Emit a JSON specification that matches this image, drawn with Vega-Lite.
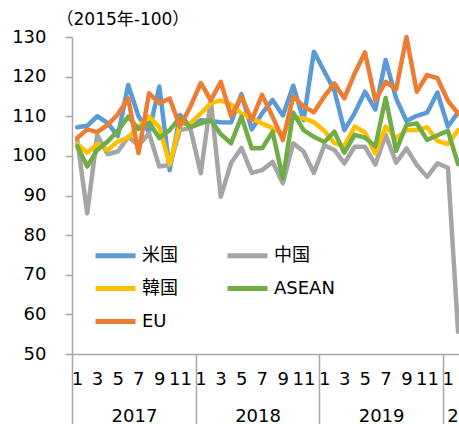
{
  "$schema": "https://vega.github.io/schema/vega-lite/v6.json",
  "width": 391,
  "height": 317,
  "autosize": {"type": "none"},
  "padding": {"left": 72, "top": 37, "right": 0, "bottom": 70},
  "background": "white",
  "config": {"view": {"stroke": null}},
  "data": {
    "values": [
      {"month": "2017-01", "米国": 107.2, "中国": 104.0, "韓国": 103.0, "ASEAN": 102.4, "EU": 104.5},
      {"month": "2017-02", "米国": 107.6, "中国": 85.5, "韓国": 100.8, "ASEAN": 97.3, "EU": 106.7},
      {"month": "2017-03", "米国": 110.0, "中国": 105.3, "韓国": 103.0, "ASEAN": 101.5, "EU": 106.0},
      {"month": "2017-04", "米国": 108.3, "中国": 100.4, "韓国": 101.5, "ASEAN": 103.6, "EU": 107.8},
      {"month": "2017-05", "米国": 105.0, "中国": 101.1, "韓国": 103.6, "ASEAN": 106.3, "EU": 110.5},
      {"month": "2017-06", "米国": 117.9, "中国": 104.8, "韓国": 104.6, "ASEAN": 109.9, "EU": 114.5},
      {"month": "2017-07", "米国": 110.0, "中国": 102.7, "韓国": 107.4, "ASEAN": 106.8, "EU": 100.7},
      {"month": "2017-08", "米国": 106.0, "中国": 105.7, "韓国": 109.9, "ASEAN": 108.4, "EU": 115.8},
      {"month": "2017-09", "米国": 117.5, "中国": 97.3, "韓国": 107.2, "ASEAN": 104.5, "EU": 113.3},
      {"month": "2017-10", "米国": 96.4, "中国": 97.7, "韓国": 97.9, "ASEAN": 106.5, "EU": 114.5},
      {"month": "2017-11", "米国": 110.3, "中国": 106.5, "韓国": 108.0, "ASEAN": 109.7, "EU": 107.4},
      {"month": "2017-12", "米国": 107.4, "中国": 107.0, "韓国": 108.2, "ASEAN": 107.2, "EU": 112.4},
      {"month": "2018-01", "米国": 109.0, "中国": 95.6, "韓国": 110.7, "ASEAN": 108.2, "EU": 118.4},
      {"month": "2018-02", "米国": 108.8, "中国": 114.0, "韓国": 113.3, "ASEAN": 109.0, "EU": 114.0},
      {"month": "2018-03", "米国": 108.5, "中国": 89.7, "韓国": 114.0, "ASEAN": 105.5, "EU": 118.7},
      {"month": "2018-04", "米国": 108.4, "中国": 98.2, "韓国": 113.0, "ASEAN": 103.2, "EU": 110.0},
      {"month": "2018-05", "米国": 115.6, "中国": 102.0, "韓国": 110.7, "ASEAN": 109.9, "EU": 115.0},
      {"month": "2018-06", "米国": 106.7, "中国": 95.7, "韓国": 109.5, "ASEAN": 101.9, "EU": 109.0},
      {"month": "2018-07", "米国": 110.7, "中国": 96.4, "韓国": 108.2, "ASEAN": 101.9, "EU": 115.4},
      {"month": "2018-08", "米国": 114.1, "中国": 98.5, "韓国": 107.0, "ASEAN": 106.1, "EU": 109.9},
      {"month": "2018-09", "米国": 110.2, "中国": 93.1, "韓国": 105.5, "ASEAN": 94.3, "EU": 104.0},
      {"month": "2018-10", "米国": 117.7, "中国": 103.2, "韓国": 109.7, "ASEAN": 110.9, "EU": 115.0},
      {"month": "2018-11", "米国": 109.0, "中国": 101.1, "韓国": 109.5, "ASEAN": 106.5, "EU": 112.5},
      {"month": "2018-12", "米国": 126.3, "中国": 95.7, "韓国": 108.5, "ASEAN": 104.8, "EU": 111.0},
      {"month": "2019-01", "米国": 121.3, "中国": 102.7, "韓国": 106.3, "ASEAN": 103.5, "EU": 115.0},
      {"month": "2019-02", "米国": 116.5, "中国": 101.5, "韓国": 103.2, "ASEAN": 106.1, "EU": 118.3},
      {"month": "2019-03", "米国": 106.5, "中国": 98.1, "韓国": 102.5, "ASEAN": 100.8, "EU": 114.5},
      {"month": "2019-04", "米国": 110.8, "中国": 102.3, "韓国": 107.4, "ASEAN": 105.3, "EU": 120.8},
      {"month": "2019-05", "米国": 116.2, "中国": 102.3, "韓国": 105.9, "ASEAN": 104.6, "EU": 126.1},
      {"month": "2019-06", "米国": 111.7, "中国": 97.8, "韓国": 100.6, "ASEAN": 102.4, "EU": 114.0},
      {"month": "2019-07", "米国": 124.2, "中国": 105.3, "韓国": 107.4, "ASEAN": 114.6, "EU": 118.7},
      {"month": "2019-08", "米国": 114.5, "中国": 98.3, "韓国": 104.4, "ASEAN": 101.3, "EU": 116.8},
      {"month": "2019-09", "米国": 108.8, "中国": 101.9, "韓国": 106.5, "ASEAN": 107.8, "EU": 130.0},
      {"month": "2019-10", "米国": 110.1, "中国": 97.7, "韓国": 106.5, "ASEAN": 108.2, "EU": 116.2},
      {"month": "2019-11", "米国": 110.9, "中国": 94.7, "韓国": 107.2, "ASEAN": 104.0, "EU": 120.4},
      {"month": "2019-12", "米国": 116.0, "中国": 98.1, "韓国": 103.8, "ASEAN": 105.2, "EU": 119.6},
      {"month": "2020-01", "米国": 107.4, "中国": 97.0, "韓国": 103.0, "ASEAN": 106.3, "EU": 113.9},
      {"month": "2020-02", "米国": 111.0, "中国": 55.6, "韓国": 106.5, "ASEAN": 97.9, "EU": 110.7}
    ]
  },
  "transform": [{"fold": ["米国", "中国", "韓国", "ASEAN", "EU"], "as": ["series", "value"]}],
  "encoding": {
    "y": {
      "field": "value", "type": "quantitative",
      "scale": {"domain": [50, 130], "nice": false, "zero": false},
      "axis": {
        "values": [50, 60, 70, 80, 90, 100, 110, 120, 130],
        "title": "（2015年-100）", "titleAngle": 0, "titleAlign": "left", "titleBaseline": "middle",
        "titleX": -16, "titleY": -18, "titleFont": "DejaVu Sans, Noto Sans CJK JP", "titleFontSize": 17,
        "titleFontWeight": "normal", "titleColor": "#000",
        "grid": false, "domainColor": "#A6A6A6", "domainWidth": 1.5,
        "tickColor": "#A6A6A6", "tickSize": 7, "tickWidth": 1.5,
        "labelFont": "DejaVu Sans", "labelFontSize": 18, "labelColor": "#000", "labelPadding": 19
      }
    },
    "color": {
      "field": "series", "type": "nominal",
      "scale": {"domain": ["米国", "中国", "韓国", "ASEAN", "EU"], "range": ["#5B9BD5", "#A5A5A5", "#FFC000", "#70AD47", "#ED7D31"]},
      "legend": {
        "orient": "none", "legendX": 21, "legendY": 196, "columns": 2, "direction": "horizontal", "title": null,
        "symbolType": "stroke", "symbolSize": 1600, "symbolStrokeWidth": 5,
        "labelFont": "DejaVu Sans, Noto Sans CJK JP", "labelFontSize": 18, "labelColor": "#000",
        "columnPadding": 39, "rowPadding": -11, "labelOffset": 4
      }
    }
  },
  "layer": [
    {
      "transform": [{"filter": "datum.series !== 'EU'"}],
      "mark": {"type": "line", "strokeWidth": 4.5, "strokeJoin": "round", "strokeCap": "round", "clip": false},
      "encoding": {
        "x": {
          "field": "month", "type": "temporal", "timeUnit": "utcyearmonth", "bandPosition": 0.5,
          "scale": {"domain": [{"year": 2017, "month": 1, "date": 1, "utc": true}, {"year": 2020, "month": 3, "date": 1, "utc": true}]},
          "axis": {
            "orient": "bottom", "title": null, "grid": false, "ticks": false,
            "tickCount": {"interval": "month", "step": 1},
            "labelExpr": "datum.value >= utc(2020, 2, 1) ? '' : (utcmonth(datum.value) % 2 == 0 ? '' + (utcmonth(datum.value) + 1) : '')",
            "labelOffset": 5, "labelAlign": "center", "labelBaseline": "top", "labelPadding": 16,
            "labelOverlap": false, "labelFlush": false, "labelBound": false,
            "labelFont": "DejaVu Sans", "labelFontSize": 18, "labelColor": "#000",
            "domainColor": "#A6A6A6", "domainWidth": 1.5
          }
        }
      }
    },
    {
      "transform": [{"filter": "datum.series === 'EU'"}],
      "mark": {"type": "line", "strokeWidth": 4.5, "strokeJoin": "round", "strokeCap": "round", "clip": false},
      "encoding": {
        "x": {
          "field": "month", "type": "temporal", "timeUnit": "utcyearmonth", "bandPosition": 0.5,
          "scale": {"domain": [{"year": 2017, "month": 1, "date": 1, "utc": true}, {"year": 2020, "month": 3, "date": 1, "utc": true}]},
          "axis": {
            "orient": "bottom", "title": null, "grid": false, "domain": false,
            "ticks": true, "tickSize": 70, "tickColor": "#A6A6A6", "tickWidth": 1.5,
            "tickCount": {"interval": "year", "step": 1},
            "labelExpr": "'' + utcyear(datum.value)",
            "labelAlign": {"condition": {"test": "utcyear(datum.value) == 2020", "value": "left"}, "value": "center"},
            "labelOffset": {"condition": {"test": "utcyear(datum.value) == 2020", "value": 4}, "value": 62},
            "labelPadding": -17, "labelBaseline": "top",
            "labelOverlap": false, "labelFlush": false, "labelBound": false,
            "labelFont": "DejaVu Sans", "labelFontSize": 18, "labelColor": "#000"
          }
        }
      }
    }
  ],
  "resolve": {"axis": {"x": "independent"}}
}
